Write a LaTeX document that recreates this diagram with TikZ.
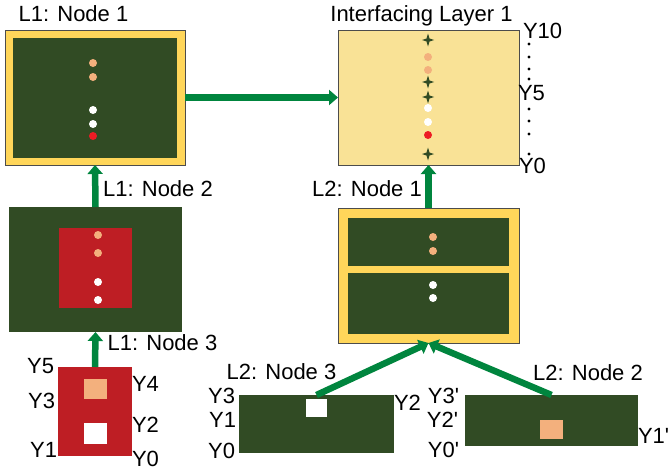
\documentclass[tikz,border=0pt]{standalone}
\usepackage{fontspec}
\setmainfont{Liberation Sans}
\usepackage{tikz}
\usetikzlibrary{positioning, arrows.meta, shapes}

\definecolor{boardgreen}{RGB}{49,75,36}
\definecolor{frameyellow}{RGB}{255,214,90}
\definecolor{paleyellow}{RGB}{249,226,150}
\definecolor{chipred}{RGB}{190,30,36}
\definecolor{peach}{RGB}{243,176,125}
\definecolor{linkgreen}{RGB}{0,133,62}
\definecolor{dotred}{RGB}{237,28,36}

\tikzstyle{frame} = [rectangle, draw=black!70, line width=0.9pt, 
fill=frameyellow]
\tikzstyle{layer} = [rectangle, draw=black!70, line width=0.9pt, 
fill=paleyellow]
\tikzstyle{board} = [rectangle, fill=boardgreen]
\tikzstyle{chip} = [rectangle, fill=chipred]
\tikzstyle{pad} = [rectangle, minimum width=23pt]
\tikzstyle{arrow} = [line width=6.5pt, draw=linkgreen, 
-{Triangle[length=9pt,width=15pt]}]

\begin{document}
\begin{tikzpicture}[x=1pt, y=-1pt,
    every node/.style={inner sep=0pt, outer sep=0pt, 
    font=\fontsize{22}{26}\selectfont}]

\useasboundingbox (0,0) rectangle (670,471);

%-------L1 nodes-------------------
\node (n1) [frame, minimum width=180pt, minimum height=135pt] 
at (95,97.5) {};
\node (n1in) [board, minimum width=164pt, minimum height=120pt] 
at (95,98) {};

\node (l1n2) [board, minimum width=173pt, minimum height=125pt] 
at (95.5,269.5) {};
\node (l1n2in) [chip, minimum width=73pt, minimum height=80pt] 
at (95.5,268) {};

\node (l1n3) [chip, minimum width=74pt, minimum height=89pt] 
at (95,411.5) {};
\node (l1n3a) [pad, fill=peach, minimum height=20pt] at (95.5,389) {};
\node (l1n3b) [pad, fill=white, minimum height=21pt] at (95.5,433.5) {};

%-------interfacing layer and L2 nodes-------------------
\node (il1) [layer, minimum width=181pt, minimum height=135pt] 
at (428.5,97.5) {};

\node (l2n1) [frame, minimum width=181pt, minimum height=135pt] 
at (428.5,275.5) {};
\node (l2n1top) [board, minimum width=161pt, minimum height=48pt] 
at (428.5,242) {};
\node (l2n1bot) [board, minimum width=161pt, minimum height=61pt] 
at (428.5,303.5) {};

\node (l2n3) [board, minimum width=155pt, minimum height=58pt] 
at (316.5,424) {};
\node (l2n3a) [pad, fill=white, minimum width=21pt, minimum height=18pt] 
at (316.5,408) {};

\node (l2n2) [board, minimum width=173pt, minimum height=51pt] 
at (551.5,420.5) {};
\node (l2n2a) [pad, fill=peach, minimum height=19pt] at (551.5,429.5) {};

%-------dots-------------------
\foreach \y/\c in {63/peach, 77/peach, 110/white, 124/white, 136/dotred}
    \fill [\c] (93,\y) circle (4);
\foreach \y/\c in {235/peach, 253/peach, 282/white, 300/white}
    \fill [\c] (98,\y) circle (4);
\foreach \y/\c in {237/peach, 251/peach, 285/white, 298/white}
    \fill [\c] (433,\y) circle (4);
\foreach \y/\c in {57/peach, 70/peach, 108/white, 122/white, 135/dotred}
    \fill [\c] (428,\y) circle (4);
\foreach \y in {40, 82, 97, 154}
    \fill [boardgreen, shift={(428,\y)}] (0,-6.5) -- (1.5,-1.5) -- (6,0) 
    -- (1.5,1.5) -- (0,6.5) -- (-1.5,1.5) -- (-6,0) -- (-1.5,-1.5) -- cycle;
\foreach \y in {44, 57, 69, 79, 109, 121, 134, 154}
    \fill (529,\y) circle (1.6);

%-------labels-------------------
\node (n1lab) [anchor=base] at (73.5,21) {L1: Node 1};
\node (il1lab) [anchor=base] at (421.5,21) {Interfacing Layer 1};
\node (l1n2lab) [anchor=base] at (158,196) {L1: Node 2};
\node (l2n1lab) [anchor=base] at (367,196) {L2: Node 1};
\node (l1n3lab) [anchor=base] at (162.5,350) {L1: Node 3};
\node (l2n3lab) [anchor=base] at (281.5,379) {L2: Node 3};
\node (l2n2lab) [anchor=base] at (588,380) {L2: Node 2};

\node (y10) [anchor=base west] at (523,38) {Y10};
\node (y5) [anchor=base west] at (518,100) {Y5};
\node (y0) [anchor=base west] at (519,173) {Y0};

\node (a5) [anchor=base east] at (54,373) {Y5};
\node (a3) [anchor=base east] at (55,408) {Y3};
\node (a1) [anchor=base east] at (57,457) {Y1};
\node (a4) [anchor=base west] at (132,391) {Y4};
\node (a2) [anchor=base west] at (132,432) {Y2};
\node (a0) [anchor=base west] at (132,466) {Y0};

\node (b3) [anchor=base east] at (235,403) {Y3};
\node (b1) [anchor=base east] at (236,427) {Y1};
\node (b0) [anchor=base east] at (235,458) {Y0};
\node (b2) [anchor=base west] at (394,410) {Y2};

\node (c3) [anchor=base east] at (459,403) {Y3\textquotesingle};
\node (c2) [anchor=base east] at (458,427) {Y2\textquotesingle};
\node (c0) [anchor=base east] at (459,457) {Y0\textquotesingle};
\node (c1) [anchor=base west] at (638,443) {Y1\textquotesingle};

%-------arrows-------------------
\draw [arrow] (n1.east) -- (il1.west);
\draw [arrow] (l1n2.north) -- (n1.south);
\draw [arrow] (l1n3.north) -- (l1n2.south);
\draw [arrow] (l2n1.north) -- (il1.south);
\draw [arrow] (l2n3.north) -- (l2n1.south);
\draw [arrow] (l2n2.north) -- (l2n1.south);

\end{tikzpicture}
\end{document}
